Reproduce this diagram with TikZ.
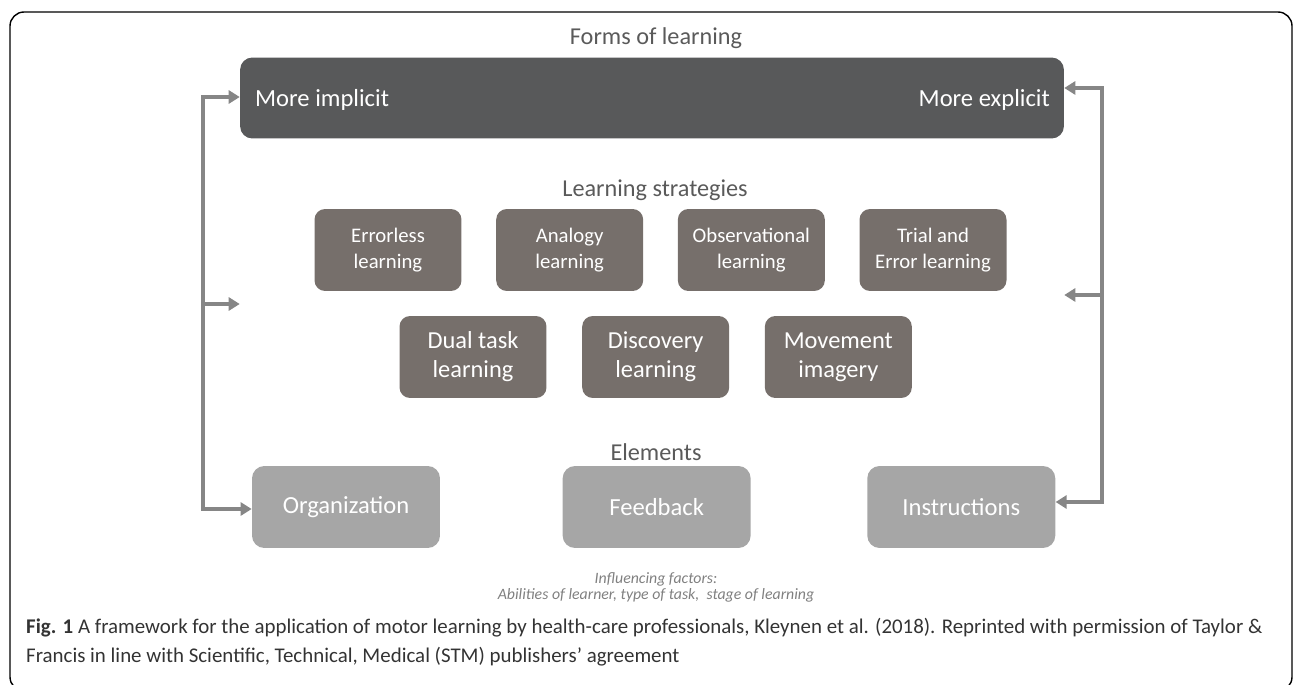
\documentclass[tikz,border=0pt]{standalone}
\usepackage{fontspec}
\setmainfont{Carlito}
\usetikzlibrary{arrows.meta, positioning, calc}
\definecolor{formgray}{HTML}{58595A}
\definecolor{stratgray}{HTML}{766F6B}
\definecolor{elemgray}{HTML}{A6A6A6}
\definecolor{linkgray}{HTML}{868686}
\definecolor{headgray}{HTML}{5A5A5A}
\definecolor{capgray}{HTML}{333333}
\tikzset{
  formbox/.style={rectangle, fill=formgray, minimum width=16.48cm, minimum height=1.62cm, rounded corners=7pt},
  formtext/.style={text=white, font=\fontsize{14}{16}\selectfont},
  stratbox/.style={rectangle, fill=stratgray, text=white, minimum width=2.94cm, minimum height=1.64cm, align=center, rounded corners=6pt, font=\fontsize{11.8}{14.8}\selectfont},
  stratbig/.style={stratbox, font=\fontsize{13.9}{16.5}\selectfont},
  elembox/.style={rectangle, fill=elemgray, text=white, minimum width=3.76cm, minimum height=1.64cm, align=center, rounded corners=7pt, font=\fontsize{14}{16}\selectfont},
  heading/.style={text=headgray, font=\fontsize{13.8}{16}\selectfont},
  arr/.style={linkgray, line width=2.8pt, -{Triangle[length=2.2mm, width=2.6mm]}},
}

\begin{document}
\begin{tikzpicture}[x=0.02cm, y=-0.02cm]
  \clip (0,0) rectangle (1293,685);
  % Frame
  \draw[line width=0.8pt, rounded corners=8pt] (10,12) rectangle (1292,691);

  % Forms of learning
  \node[heading] (formlbl) at (656,38) {Forms of learning};
  \node[formbox] (forms) at (652,98) {};
  \node[formtext, anchor=west] (impl) at (249,100) {More implicit};
  \node[formtext, anchor=east] (expl) at (1056,100) {More explicit};

  % Learning strategies
  \node[heading] (stratlbl) at (655,190) {Learning strategies};
  \node[stratbox] (errorless) at (388,250) {Errorless\\learning};
  \node[stratbox, right=0.68cm of errorless] (analogy) {Analogy\\learning};
  \node[stratbox, right=0.68cm of analogy] (observ) {Observational\\learning};
  \node[stratbox, right=0.68cm of observ] (trial) {Trial and\\Error learning};
  \node[stratbig] (dual) at (473,357) {Dual task\\learning};
  \node[stratbig, right=0.7cm of dual] (discovery) {Discovery\\learning};
  \node[stratbig, right=0.7cm of discovery] (movement) {Movement\\imagery};

  % Elements
  \node[heading] (elemlbl) at (656,452) {Elements};
  \node[elembox] (org) at (346,507) {Organization};
  \node[elembox, right=2.44cm of org] (feedback) {Feedback};
  \node[elembox, right=2.32cm of feedback] (instr) {Instructions};

  % Influencing factors
  \node[text=gray, align=center, font=\itshape\fontsize{9}{9.1}\selectfont] (infl) at (656,587) {Influencing factors:\\Abilities of learner, type of task,\ \ stage of learning};

  % Side connectors
  \coordinate (ltop) at (203,97);
  \coordinate (lmid) at (203,304);
  \coordinate (lbot) at (203,509);
  \coordinate (rtop) at (1102,88);
  \coordinate (rmid) at (1102,295);
  \coordinate (rbot) at (1102,502);
  \draw[arr] (lbot) -- (ltop) -- (ltop -| forms.west);
  \draw[arr] (ltop) -- (lbot) -- (lbot -| org.west);
  \draw[arr] (lmid) -- (lmid -| forms.west);
  \draw[arr] (rbot) -- (rtop) -- (rtop -| forms.east);
  \draw[arr] (rtop) -- (rbot) -- (rbot -| instr.east);
  \draw[arr] (rmid) -- (rmid -| forms.east);

  % Caption
  \node[anchor=west, text=capgray, align=left, font=\fontsize{11.9}{16.5}\selectfont] (cap) at (20,642) {\textbf{Fig. 1} A framework for the application of motor learning by health-care professionals, Kleynen et al. (2018). Reprinted with permission of Taylor \&\\Francis in line with Scientific, Technical, Medical (STM) publishers’ agreement};
\end{tikzpicture}
\end{document}
